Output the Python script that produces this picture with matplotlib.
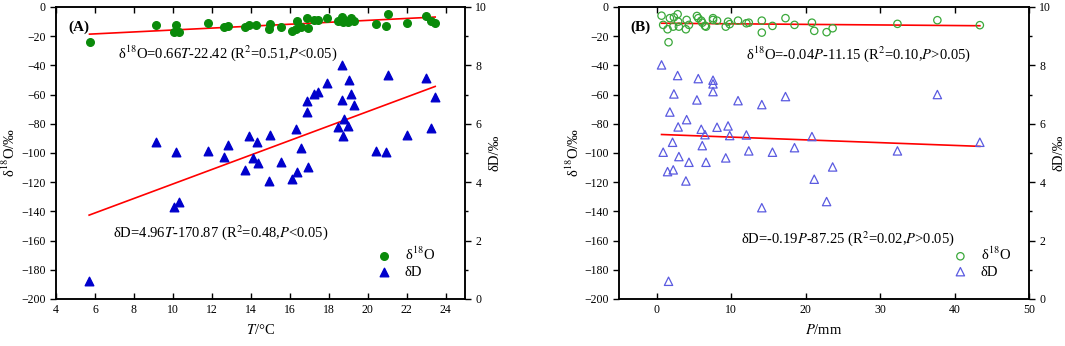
import numpy as np
import matplotlib.pyplot as plt
from matplotlib.ticker import MultipleLocator

plt.rcParams['font.family'] = ['Liberation Serif', 'DejaVu Serif']
plt.rcParams['mathtext.fontset'] = 'stix'

# panel A: temperature
t_o18 = [5.72, 9.13, 10.15, 10.08, 10.3, 11.8, 12.65, 12.85, 13.72, 13.9, 14.27,
         14.97, 14.92, 15.55, 16.1, 16.34, 16.36, 16.6, 16.9, 16.92, 17.26, 17.44,
         17.9, 18.46, 18.68, 18.72, 18.77, 18.97, 19.16, 19.3, 20.43, 20.97, 21.06,
         22.03, 23.02, 23.23, 23.47]
o18_a = [-24.2, -12.3, -12.3, -17.3, -17.3, -11.0, -13.7, -12.8, -13.9, -12.3, -12.3,
         -11.6, -15.3, -13.9, -16.4, -15.1, -9.6, -13.5, -7.7, -14.2, -9.1, -8.7,
         -7.7, -9.6, -6.6, -10.5, -8.9, -10.1, -7.7, -9.6, -11.6, -13.2, -5.0,
         -11.2, -6.0, -9.6, -11.2]
t_d = [9.15, 10.15, 10.05, 10.3, 5.7, 11.8, 12.65, 12.85, 13.9, 13.7, 14.1, 14.3,
       14.35, 14.97, 14.92, 15.55, 16.1, 16.34, 16.36, 16.6, 16.9, 16.9, 16.92,
       17.26, 17.44, 17.9, 18.7, 19.07, 18.68, 19.16, 19.3, 18.46, 18.77, 18.97,
       18.72, 20.43, 20.97, 21.06, 22.03, 23.02, 23.23, 23.47]
d_a = [-92.7, -99.3, -137.2, -133.6, -187.5, -98.4, -103.0, -94.7, -88.1, -111.6,
       -103.7, -92.5, -106.6, -87.7, -119.2, -106.2, -117.8, -83.8, -113.2, -96.4,
       -64.2, -71.9, -109.4, -59.8, -58.0, -52.0, -39.7, -50.0, -63.7, -59.4, -66.9,
       -82.2, -76.9, -81.7, -88.6, -98.6, -99.5, -46.8, -87.7, -48.9, -82.6, -61.6]

# panel B: precipitation
p_o18 = [0.67, 0.89, 1.48, 1.79, 2.24, 2.33, 2.83, 1.61, 2.9, 3.0, 3.94, 4.04, 4.35,
         5.42, 5.6, 6.0, 6.14, 6.5, 6.64, 7.58, 7.58, 8.12, 9.29, 9.6, 9.82, 10.94,
         12.06, 12.38, 14.13, 14.13, 15.56, 17.31, 18.52, 20.86, 21.17, 22.83, 23.64,
         32.34, 37.7, 43.4]
o18_b = [-6.0, -12.3, -15.3, -7.7, -13.5, -7.1, -5.0, -24.2, -10.1, -13.5, -15.3,
         -8.9, -12.3, -6.2, -7.7, -9.4, -10.8, -13.0, -13.5, -7.7, -8.9, -9.4, -13.5,
         -10.1, -11.8, -9.4, -11.2, -10.8, -9.4, -17.6, -13.0, -7.7, -12.3, -10.8,
         -16.4, -17.3, -14.6, -11.6, -9.1, -12.5]
p_d = [0.67, 2.83, 2.33, 1.79, 2.9, 4.04, 5.6, 5.42, 7.58, 7.58, 7.58, 6.0, 6.5,
       6.14, 8.12, 9.6, 9.82, 10.94, 12.06, 12.38, 14.13, 15.56, 17.31, 18.52, 0.89,
       2.15, 3.0, 4.35, 6.64, 9.29, 1.48, 2.24, 3.94, 14.13, 1.61, 37.7, 20.86,
       32.34, 23.64, 43.4, 21.17, 22.83]
d_b = [-39.7, -47.0, -59.6, -72.0, -82.2, -77.2, -49.1, -63.7, -50.2, -52.7, -58.0,
       -83.8, -87.5, -95.0, -82.4, -81.5, -88.1, -64.2, -87.7, -98.6, -66.9, -99.5,
       -61.4, -96.4, -99.5, -92.7, -102.5, -106.4, -106.4, -103.4, -112.8, -111.6,
       -119.2, -137.5, -187.9, -60.0, -88.8, -98.6, -109.6, -92.7, -118.0, -133.3]

# fitted equations (slope, intercept)
fit_a_o18 = (0.66, -22.42)
fit_a_d = (4.96, -170.87)
fit_b_o18 = (-0.04, -11.15)
fit_b_d = (-0.19, -87.25)

fig = plt.figure(figsize=(10.65, 3.46), dpi=100)
axA = fig.add_axes([0.0526, 0.136, 0.384, 0.844])
axB = fig.add_axes([0.5815, 0.136, 0.3847, 0.844])


def style(ax, xlim, xstep):
    ax.set_xlim(*xlim)
    ax.set_ylim(-200, 0)
    ax.xaxis.set_major_locator(MultipleLocator(xstep))
    ax.yaxis.set_major_locator(MultipleLocator(20))
    ax.tick_params(axis='x', direction='in', top=True, length=4, width=1, labelsize=8.5)
    ax.tick_params(axis='y', direction='out', right=False, length=4, width=1, labelsize=8.5)
    for s in ax.spines.values():
        s.set_linewidth(1.1)
    ax.set_ylabel(r'δ$^{18}$O/‰', fontsize=10.5, labelpad=2)
    ax2 = ax.twinx()
    ax2.set_ylim(0, 10)
    ax2.yaxis.set_major_locator(MultipleLocator(2))
    ax2.yaxis.set_minor_locator(MultipleLocator(1))
    ax2.tick_params(axis='y', which='major', direction='out', length=4, width=1, labelsize=8.5)
    ax2.tick_params(axis='y', which='minor', direction='out', length=2.5, width=1)
    ax2.set_ylabel('δD/‰', fontsize=10.5, labelpad=1)
    for s in ax2.spines.values():
        s.set_linewidth(1.1)
    return ax2


style(axA, (4, 25), 2)
style(axB, (-5, 50), 10)
axA.set_xlabel(r'$T$/°C', fontsize=10.5, labelpad=5)
axB.set_xlabel(r'$P$/mm', fontsize=10.5, labelpad=5)

# panel A
axA.scatter(t_o18, o18_a, s=30, marker='o', color='#0a8a0a', zorder=3, label=r'δ$^{18}$O')
axA.scatter(t_d, d_a, s=38, marker='^', color='#0000cc', zorder=3, label='δD')
for tx, (m, b) in [(t_o18, fit_a_o18), (t_d, fit_a_d)]:
    xx = np.array([min(tx), max(tx)])
    axA.plot(xx, m * xx + b, color='red', lw=1.2, zorder=2)
axA.text(0.031, 0.929, '(A)', transform=axA.transAxes, fontsize=11, fontweight='bold', va='center')
axA.text(0.152, 0.842, r'δ$^{18}$O=0.66$T$-22.42 (R$^2$=0.51,$P$<0.05)',
         transform=axA.transAxes, fontsize=10.5, va='center')
axA.text(0.139, 0.227, r'δD=4.96$T$-170.87 (R$^2$=0.48,$P$<0.05)',
         transform=axA.transAxes, fontsize=10.5, va='center')
axA.legend(loc='lower right', bbox_to_anchor=(0.94, 0.05), frameon=False, fontsize=10.5,
           handletextpad=0.4, labelspacing=0.15, borderaxespad=0)

# panel B
axB.scatter(p_o18, o18_b, s=28, marker='o', facecolors='none', edgecolors='#3aa83a',
            linewidths=0.9, zorder=3, label=r'δ$^{18}$O')
axB.scatter(p_d, d_b, s=36, marker='^', facecolors='none', edgecolors='#5a5ae0',
            linewidths=0.9, zorder=3, label='δD')
for px, (m, b) in [(p_o18, fit_b_o18), (p_d, fit_b_d)]:
    xx = np.array([min(px), max(px)])
    axB.plot(xx, m * xx + b, color='red', lw=1.2, zorder=2)
axB.text(0.028, 0.93, '(B)', transform=axB.transAxes, fontsize=11, fontweight='bold', va='center')
axB.text(0.3085, 0.839, r'δ$^{18}$O=-0.04$P$-11.15 (R$^2$=0.10,$P$>0.05)',
         transform=axB.transAxes, fontsize=10.5, va='center')
axB.text(0.296, 0.2065, r'δD=-0.19$P$-87.25 (R$^2$=0.02,$P$>0.05)',
         transform=axB.transAxes, fontsize=10.5, va='center')
axB.legend(loc='lower right', bbox_to_anchor=(0.97, 0.05), frameon=False, fontsize=10.5,
           handletextpad=0.4, labelspacing=0.15, borderaxespad=0)

fig.savefig('out.png', dpi=100)
